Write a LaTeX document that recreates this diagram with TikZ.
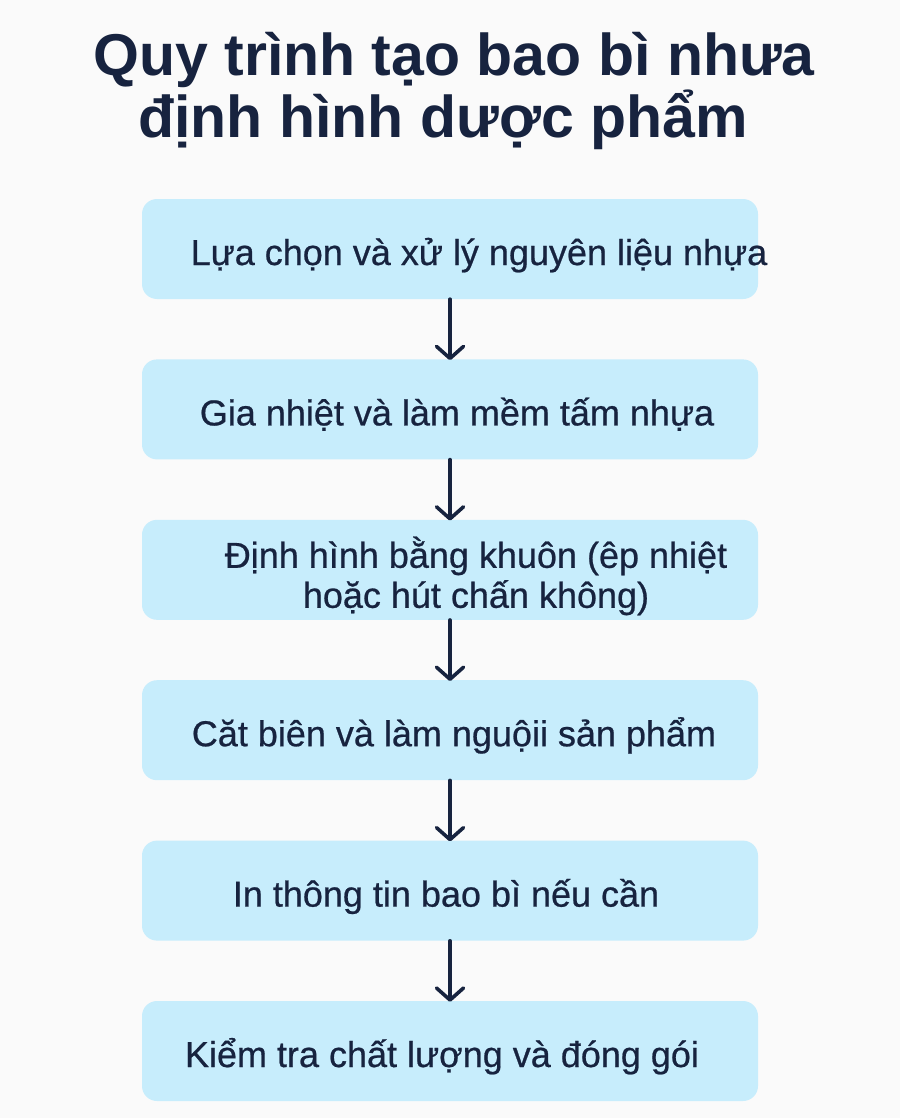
\documentclass[tikz,border=0pt]{standalone}
\usepackage{fontspec}
\setmainfont{Liberation Sans}
\newfontfamily\stepfont[FakeBold=0.6]{Liberation Sans}
\usetikzlibrary{positioning,arrows.meta}
\definecolor{navy}{HTML}{17233F}
\definecolor{boxblue}{HTML}{C7EDFC}
\definecolor{paper}{HTML}{FAFAFA}

\begin{document}
\begin{tikzpicture}[x=1pt, y=1pt,
    box/.style = {rectangle, rounded corners=15pt, fill=boxblue, minimum width=616pt, minimum height=100pt, inner sep=0pt},
    txt/.style = {text=navy, font=\stepfont\fontsize{36}{40}\selectfont, align=center, inner sep=0pt, anchor=base},
    ttl/.style = {text=navy, font=\bfseries\fontsize{59}{62}\selectfont, inner sep=0pt, anchor=base},
    flow/.style = {-{Straight Barb[length=12pt, width=27pt, line cap=round, line join=round]}, line width=3.6pt, navy, line cap=round}]
    \fill[paper] (0,0) rectangle (900,-1118);
    \useasboundingbox (0,0) rectangle (900,-1118);
    % title
    \node[ttl] (title1) at (454,-76) {Quy trình tạo bao bì nhưa};
    \node[ttl] (title2) at (443,-138) {định hình dược phẩm};
    % steps
    \node[box] (s1) at (450,-249) {};
    \node[box, below=60pt of s1] (s2) {};
    \node[box, below=60pt of s2] (s3) {};
    \node[box, below=60pt of s3] (s4) {};
    \node[box, below=60pt of s4] (s5) {};
    \node[box, below=60pt of s5] (s6) {};
    \node[txt] (t1) at ([shift={(29,-16)}]s1.center) {Lựa chọn và xử lý nguyên liệu nhựa};
    \node[txt] (t2) at ([shift={(7,-16)}]s2.center) {Gia nhiệt và làm mềm tấm nhựa};
    \node[txt] (t3) at ([shift={(26,-38)}]s3.center) {Định hình bằng khuôn (êp nhiệt\\hoặc hút chấn không)};
    \node[txt] (t4) at ([shift={(4,-16)}]s4.center) {Căt biên và làm nguộii sản phẩm};
    \node[txt] (t5) at ([shift={(-4,-16)}]s5.center) {In thông tin bao bì nếu cần};
    \node[txt] (t6) at ([shift={(-8,-16)}]s6.center) {Kiểm tra chất lượng và đóng gói};
    % arrows
    \foreach \a/\b in {s1/s2, s2/s3, s3/s4, s4/s5, s5/s6}
        \draw[flow] (\a.south) -- ([yshift=-1pt]\b.north);
\end{tikzpicture}
\end{document}
